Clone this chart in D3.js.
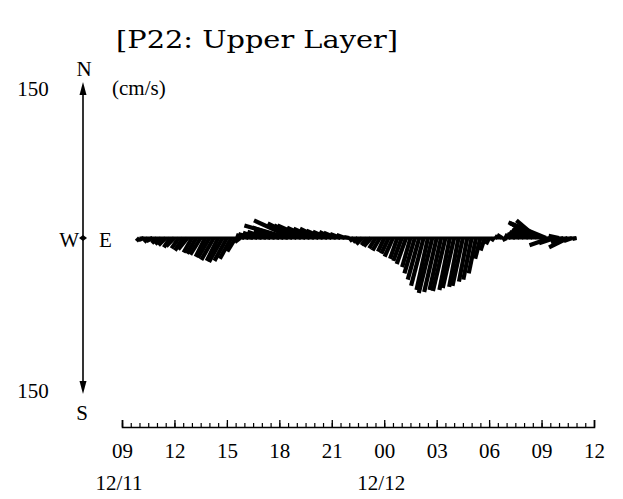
<!DOCTYPE html>
<html>
<head>
<meta charset="utf-8">
<script src="https://cdn.jsdelivr.net/npm/d3@7"></script>
<style>
  html, body { margin: 0; padding: 0; background: #fff; }
  svg text { font-family: "Liberation Serif", "DejaVu Serif", serif; fill: #000; }
</style>
</head>
<body>
<figure id="stick" style="margin:0"></figure>
<script>
// current meter P22, upper layer; one sample every 15 min from 10:00 12/11
const firstSample = new Date(2000, 11, 11, 10, 0);
const stepMinutes = 15;

// east component (cm/s)
const east = [
  -3, -5, -4, -6, -5, -6, -7, -6, -8, -7, -8, -9, -8, -9, -10, -9, -11, -12, -11, -13, -12, -11, -8, -5,
  -8, -10, -12, -14, -15, -18, -16, -20, -24, -30, -42, -37, -28, -26, -27, -22, -20, -18, -16, -14, -12, -12, -10, -8, -5,
  -4, -5, -6, -5, -7, -6, -7, -6, -7, -8, -7, -8, -9, -8, -10, -11, -12, -11, -13, -12, -11, -12, -10, -11, -9, -10, -8, -8, -7, -5, -4, -3, -2,
  -3, -5, -4, -6, -8, -10, -12, -15, -19, -20, -30, -36, -20, -15, -10, -12, -18, -8, -4
];
// north component (cm/s)
const north = [
  -3, -2, -4, -3, -5, -6, -7, -9, -8, -10, -12, -11, -14, -15, -16, -18, -19, -21, -22, -23, -22, -20, -13, -4,
  3, 4, 3, 5, 4, 6, 5, 7, 8, 10, 12, 17, 14, 12, 12, 10, 9, 9, 7, 6, 6, 5, 4, 3, 1,
  -3, -4, -6, -7, -8, -10, -12, -13, -15, -18, -20, -22, -25, -28, -34, -40, -46, -50, -53, -52, -50, -51, -50, -48, -47, -46, -42, -40, -34, -20, -12, -6, -3,
  2, 3, -2, 3, 4, 6, 8, 9, 13, 17, 14, 15, -7, -5, 2, -4, -9, -3, -1
];

const hourTicks = ["09", "12", "15", "18", "21", "00", "03", "06", "09", "12"];
const dateLabels = [
  { label: "12/11", at: new Date(2000, 11, 11, 9) },
  { label: "12/12", at: new Date(2000, 11, 12, 0) }
];
const speedRange = 150;

const width = 623, height = 499;
const svg = d3.select("#stick").append("svg")
  .attr("width", width)
  .attr("height", height);

const t0 = new Date(2000, 11, 11, 9), t1 = new Date(2000, 11, 12, 12);
const x = d3.scaleTime().domain([t0, t1]).range([122, 594]);
const y = d3.scaleLinear().domain([-speedRange, speedRange]).range([394, 82]);
const k = y(0) - y(1); // px per cm/s, same both ways
const axisX = 83;

const samples = east.map((u, i) => ({
  t: d3.timeMinute.offset(firstSample, i * stepMinutes),
  u: u,
  v: north[i]
}));

// title
svg.append("text")
  .attr("x", 116).attr("y", 48)
  .attr("textLength", 282).attr("lengthAdjust", "spacingAndGlyphs")
  .style("font-family", "'DejaVu Serif', serif")
  .style("font-size", "25px")
  .text("[P22: Upper Layer]");

// compass axis
svg.append("line")
  .attr("x1", axisX).attr("x2", axisX)
  .attr("y1", y(speedRange) + 8).attr("y2", y(-speedRange) - 8)
  .attr("stroke", "#000").attr("stroke-width", 1.6);
svg.append("path")
  .attr("d", `M${axisX},${y(speedRange)} l-3.5,13 l7,0 Z`)
  .attr("fill", "#000");
svg.append("path")
  .attr("d", `M${axisX},${y(-speedRange)} l-3.5,-13 l7,0 Z`)
  .attr("fill", "#000");
svg.append("path")
  .attr("d", `M${axisX - 4},${y(0)} L${axisX},${y(0) - 3} L${axisX + 4},${y(0)} L${axisX},${y(0) + 3} Z`)
  .attr("fill", "#000");

const lab = (txt, px, py, anchor) => svg.append("text")
  .attr("x", px).attr("y", py)
  .attr("text-anchor", anchor || "middle")
  .style("font-size", "21px")
  .text(txt);

lab("N", axisX + 1, 76);
lab("S", axisX - 1, 420);
lab("W", axisX - 4, 247, "end");
lab("E", axisX + 16, 247, "start");
lab(String(speedRange), 33, y(speedRange) + 14);
lab(String(speedRange), 33, y(-speedRange) + 4);
lab("(cm/s)", 112, y(speedRange) + 13, "start");

// sticks
svg.append("line")
  .attr("x1", x(samples[0].t)).attr("x2", x(samples[samples.length - 1].t))
  .attr("y1", y(0)).attr("y2", y(0))
  .attr("stroke", "#000").attr("stroke-width", 3);

svg.append("g")
  .selectAll("line")
  .data(samples)
  .enter()
  .append("line")
  .attr("x1", d => x(d.t))
  .attr("y1", y(0))
  .attr("x2", d => x(d.t) + d.u * k)
  .attr("y2", d => y(d.v))
  .attr("stroke", "#000")
  .attr("stroke-width", 4.2)
  .attr("stroke-linecap", "butt");

// time axis, ticks pointing up
const axisY = 427;
const majors = d3.timeHour.every(3).range(t0, d3.timeHour.offset(t1, 1));
svg.append("g")
  .attr("transform", `translate(0,${axisY})`)
  .call(d3.axisBottom(x).tickValues(d3.timeMinute.every(30).range(t0, t1)).tickSize(-4).tickFormat(""))
  .call(g => g.select(".domain").remove())
  .selectAll("line").attr("stroke-width", 1.2);

const ax = svg.append("g")
  .attr("transform", `translate(0,${axisY})`)
  .call(d3.axisBottom(x)
    .tickValues(majors)
    .tickSizeInner(-7)
    .tickSizeOuter(-7)
    .tickPadding(16)
    .tickFormat((d, i) => hourTicks[i]));
ax.select(".domain").attr("stroke-width", 1.6);
ax.selectAll("line").attr("stroke-width", 1.3);
ax.selectAll("text")
  .style("font-family", "'Liberation Serif', serif")
  .style("font-size", "21px");

svg.selectAll("text.date")
  .data(dateLabels)
  .enter()
  .append("text")
  .attr("class", "date")
  .attr("x", d => x(d.at) - 3)
  .attr("y", 490)
  .attr("text-anchor", "middle")
  .style("font-size", "21px")
  .text(d => d.label);
</script>
</body>
</html>
